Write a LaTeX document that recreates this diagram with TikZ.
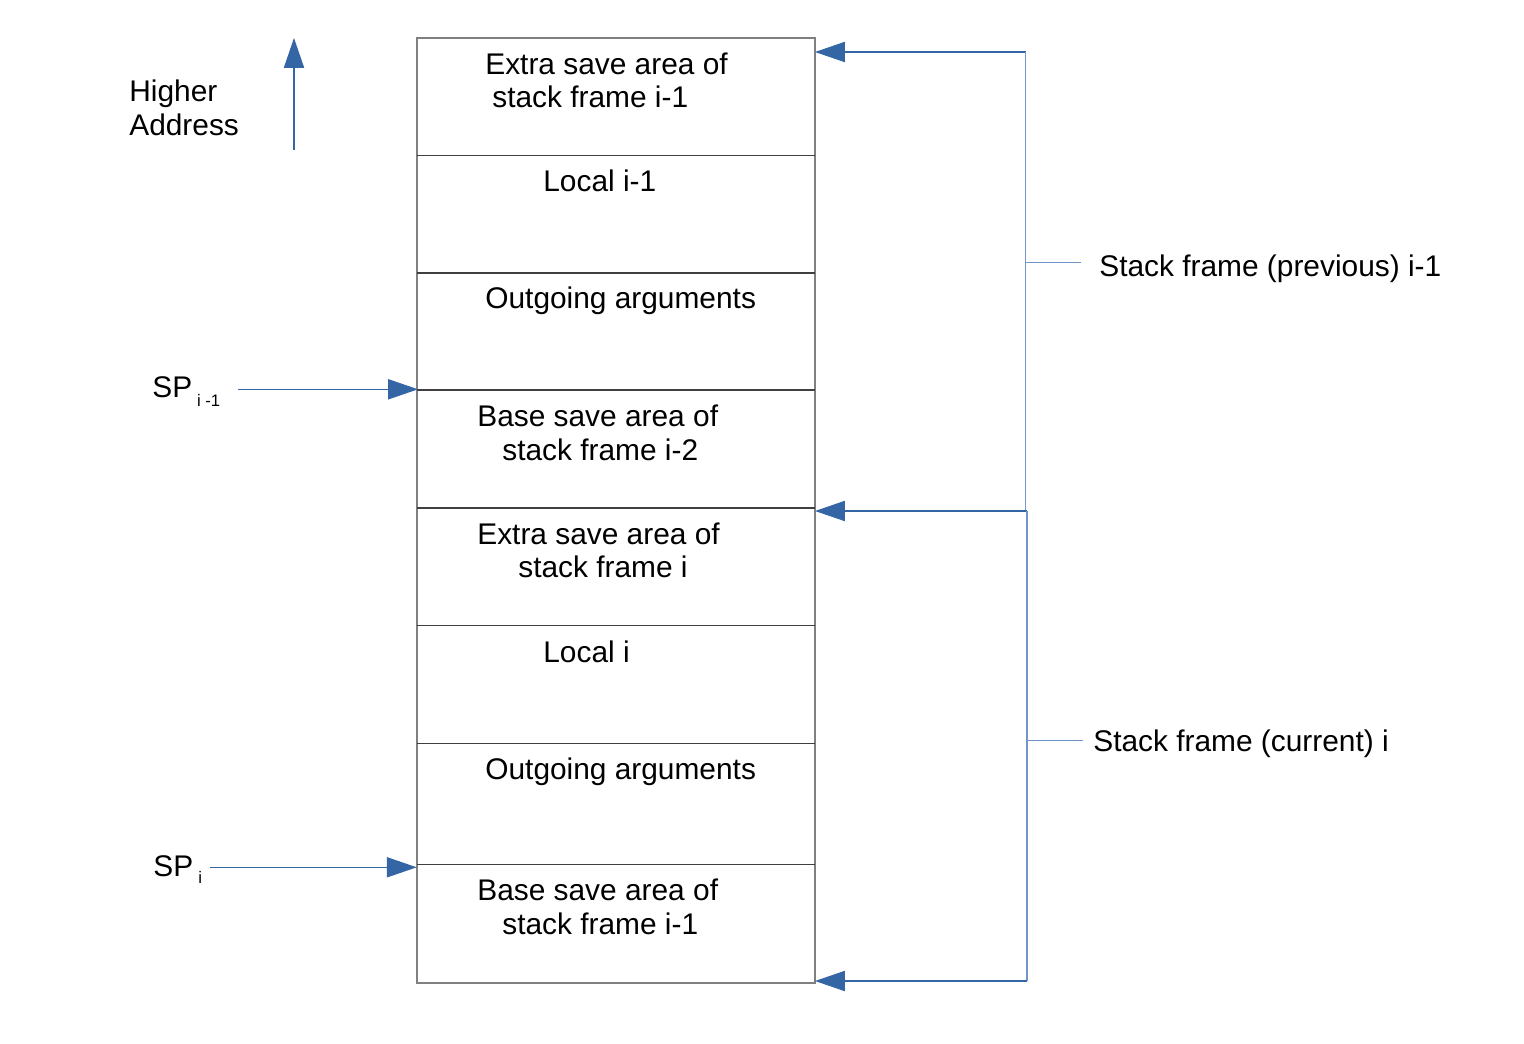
\documentclass[tikz,border=0pt]{standalone}
\usepackage{fontspec}
\setmainfont{Liberation Sans}
\usepackage{xcolor}
\usetikzlibrary{arrows.meta}

\definecolor{r52g101b164}{rgb}{0.203922,0.396078,0.643137}
\definecolor{r114g150b200}{rgb}{0.447059,0.588235,0.784314}
\definecolor{r128g128b128}{rgb}{0.501961,0.501961,0.501961}
\definecolor{r64g64b64}{rgb}{0.250980,0.250980,0.250980}

\tikzset{
  cell/.style={draw=r128g128b128, line width=0.6pt},
  divider/.style={draw=r64g64b64, line width=0.6pt},
  pointer/.style={draw=r52g101b164, line width=0.6pt, -{Triangle[length=17pt,width=11.5pt]}},
  brace/.style={draw=r114g150b200, line width=0.6pt},
  txt/.style={anchor=base west, inner sep=0pt, font=\fontsize{17}{18.7}\selectfont},
  subtxt/.style={anchor=base west, inner sep=0pt, font=\fontsize{9.5}{11}\selectfont},
}

\begin{document}
\begin{tikzpicture}[x=0.02cm,y=-0.02cm]
  \useasboundingbox (0,0) rectangle (1524,1044);

  % Drawing stack outline
  \draw [cell] (417,38) rectangle (815,983);

  % Drawing dividers between cells
  \draw [divider] (417,155.5) -- (815,155.5);
  \draw [divider] (417,273) -- (815,273);
  \draw [divider] (417,390) -- (815,390);
  \draw [divider] (417,508) -- (815,508);
  \draw [divider] (417,625.5) -- (815,625.5);
  \draw [divider] (417,743.3) -- (815,743.3);
  \draw [divider] (417,864.3) -- (815,864.3);

  % Marking cell texts
  \node [txt] (xsaPrev) at (485,75) {Extra save area of};
  \node [txt] (xsaPrevB) at (492,107.7) {stack frame i-1};
  \node [txt] (locPrev) at (543,192) {Local i-1};
  \node [txt] (outPrev) at (485,308.7) {Outgoing arguments};
  \node [txt] (bsaPrev) at (477,426.7) {Base save area of};
  \node [txt] (bsaPrevB) at (502,460.3) {stack frame i-2};
  \node [txt] (xsaCur) at (477,544) {Extra save area of};
  \node [txt] (xsaCurB) at (518,577.7) {stack frame i};
  \node [txt] (locCur) at (543,662.7) {Local i};
  \node [txt] (outCur) at (485,779.3) {Outgoing arguments};
  \node [txt] (bsaCur) at (477,900) {Base save area of};
  \node [txt] (bsaCurB) at (502,934.3) {stack frame i-1};

  % Marking higher address
  \node [txt] (higher) at (129,101.7) {Higher};
  \node [txt] (address) at (129,135.3) {Address};
  \coordinate (upA) at (294,150);
  \coordinate (upB) at (294,38);
  \draw [pointer] (upA) -- (upB);

  % Marking stack pointers
  \node [txt] (spPrev) at (152,397.7) {SP};
  \node [subtxt] (spPrevSub) at (196.7,406) {i -1};
  \coordinate (spPrevA) at (238,389.3);
  \coordinate (spPrevB) at (418,389.3);
  \draw [pointer] (spPrevA) -- (spPrevB);

  \node [txt] (spCur) at (153,876) {SP};
  \node [subtxt] (spCurSub) at (198,883) {i};
  \coordinate (spCurA) at (210,867.3);
  \coordinate (spCurB) at (416.7,867.3);
  \draw [pointer] (spCurA) -- (spCurB);

  % Drawing bracket of previous frame
  \coordinate (prevTop) at (1025.7,52);
  \coordinate (prevEnd) at (815,52);
  \coordinate (prevBot) at (1025.7,511);
  \coordinate (prevTick) at (1025.7,262.7);
  \coordinate (prevTickEnd) at (1081,262.7);
  \draw [pointer] (prevTop) -- (prevEnd);
  \draw [brace] (prevTop) -- (prevBot);
  \draw [brace] (prevTick) -- (prevTickEnd);
  \node [txt] (prevLabel) at (1099,276) {Stack frame (previous) i-1};

  % Drawing bracket of current frame
  \coordinate (curTop) at (1027,511);
  \coordinate (curEnd) at (815,511);
  \coordinate (curBot) at (1027,981);
  \coordinate (curBotEnd) at (815,981);
  \coordinate (curTick) at (1027,740.7);
  \coordinate (curTickEnd) at (1083,740.7);
  \draw [pointer] (curTop) -- (curEnd);
  \draw [brace] (curTop) -- (curBot);
  \draw [pointer] (curBot) -- (curBotEnd);
  \draw [brace] (curTick) -- (curTickEnd);
  \node [txt] (curLabel) at (1093,751) {Stack frame (current) i};
\end{tikzpicture}
\end{document}
